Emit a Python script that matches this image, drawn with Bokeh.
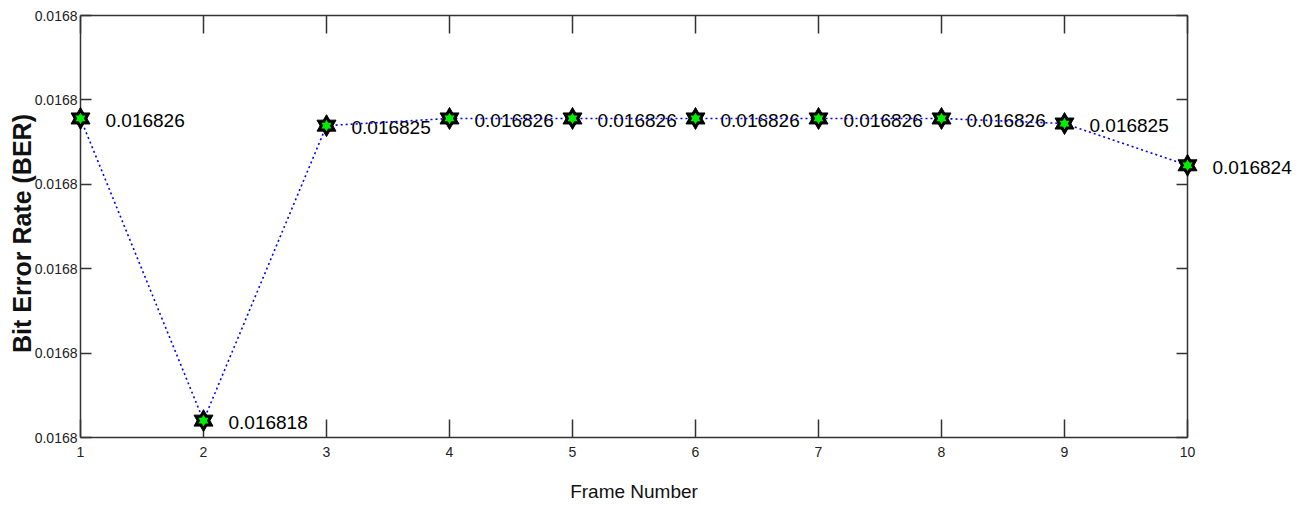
import math
from bokeh.plotting import figure
from bokeh.models import (ColumnDataSource, LabelSet, Label, FixedTicker, PrintfTickFormatter,
                          LinearAxis, Range1d)
from bokeh.core.properties import value
from bokeh.embed import file_html
from bokeh.resources import INLINE

# ---- data ----
frames = [1, 2, 3, 4, 5, 6, 7, 8, 9, 10]
ber = [0.01682556, 0.01681840, 0.01682539, 0.01682556, 0.01682556,
       0.01682556, 0.01682556, 0.01682556, 0.01682544, 0.01682445]
y_ticks = [0.016818, 0.016820, 0.016822, 0.016824, 0.016826, 0.016828]
x_ticks = frames
labels = [f"{v:.6f}" for v in ber]
x_title = "Frame Number"
y_title = "Bit Error Rate (BER)"

src = ColumnDataSource(dict(x=frames, y=ber, label=labels))

# ---- layout (pixels); the plot frame covers the whole canvas ----
W, H = 1300, 505
BOX_L, BOX_R, BOX_T, BOX_B = 80, 1187, 15, 437
ppx = (BOX_R - BOX_L) / (frames[-1] - frames[0])
ppy = (BOX_B - BOX_T) / (y_ticks[-1] - y_ticks[0])
x_range = Range1d(frames[0] - BOX_L / ppx, frames[-1] + (W - BOX_R) / ppx)
y_range = Range1d(y_ticks[0] - (H - BOX_B) / ppy, y_ticks[-1] + BOX_T / ppy)

FONT = "Liberation Sans"
AX = "#333333"

p = figure(width=W, height=H, x_range=x_range, y_range=y_range,
           output_backend="svg", toolbar_location=None,
           x_axis_location=None, y_axis_location=None, min_border=0)
p.min_border_left = p.min_border_right = p.min_border_top = p.min_border_bottom = 0
p.grid.visible = False
p.outline_line_color = None
p.background_fill_color = "white"
p.border_fill_color = "white"

def make_axis(ticks, loc, bounds, tick_in, show_labels=True):
    ax = LinearAxis(ticker=FixedTicker(ticks=ticks), fixed_location=loc, bounds=bounds)
    ax.major_tick_in = tick_in
    ax.major_tick_out = 0
    ax.minor_tick_line_color = None
    ax.axis_line_color = AX
    ax.axis_line_width = 1.5
    ax.major_tick_line_color = AX
    ax.major_tick_line_width = 1.5
    ax.major_label_text_font = FONT
    ax.major_label_text_font_size = "14px"
    ax.major_label_text_color = "#222222" if show_labels else None
    return ax

xb = (frames[0], frames[-1])
yb = (y_ticks[0], y_ticks[-1])

bottom = make_axis(x_ticks, y_ticks[0], xb, 18)
bottom.major_label_standoff = 9
p.add_layout(bottom, "below")

top = make_axis(x_ticks, y_ticks[-1], xb, 18, show_labels=False)
p.add_layout(top, "above")

left = make_axis(y_ticks, frames[0], yb, 11)
left.formatter = PrintfTickFormatter(format="%.4f")
left.major_label_standoff = 3
p.add_layout(left, "left")

right = make_axis(y_ticks, frames[-1], yb, 11, show_labels=False)
p.add_layout(right, "right")

# axis titles
p.add_layout(Label(x=(frames[0] + frames[-1]) / 2, y=y_ticks[0], y_offset=-54,
                   text=x_title, text_align="center", text_baseline="middle",
                   text_font=FONT, text_font_size="19px", text_color="#111111"))
p.add_layout(Label(x=frames[0], y=(y_ticks[0] + y_ticks[-1]) / 2, x_offset=-59, y_offset=-7,
                   angle=math.pi / 2, text=y_title, text_align="center",
                   text_baseline="middle", text_font=FONT, text_font_size="25px",
                   text_font_style="bold", text_color="#111111"))

# dotted line
p.line("x", "y", source=src, line_color="#0000ff", line_dash="2 3", line_width=1.6,
       level="overlay")

# hexagram markers: black outline then green interior
for m in ("triangle", "inverted_triangle"):
    p.scatter("x", "y", source=src, marker=m, size=19, fill_color="black",
              line_color="black", line_width=1, level="overlay")
for m in ("triangle", "inverted_triangle"):
    p.scatter("x", "y", source=src, marker=m, size=10, fill_color="#00ee00",
              line_color=None, level="overlay")

lbl = LabelSet(x="x", y="y", text="label", source=src, x_offset=25, y_offset=-2,
               text_baseline="middle", text_align="left",
               text_font=value(FONT), text_font_size="19px", text_color="black")
p.add_layout(lbl)

open("out.html", "w").write(file_html(p, INLINE))
